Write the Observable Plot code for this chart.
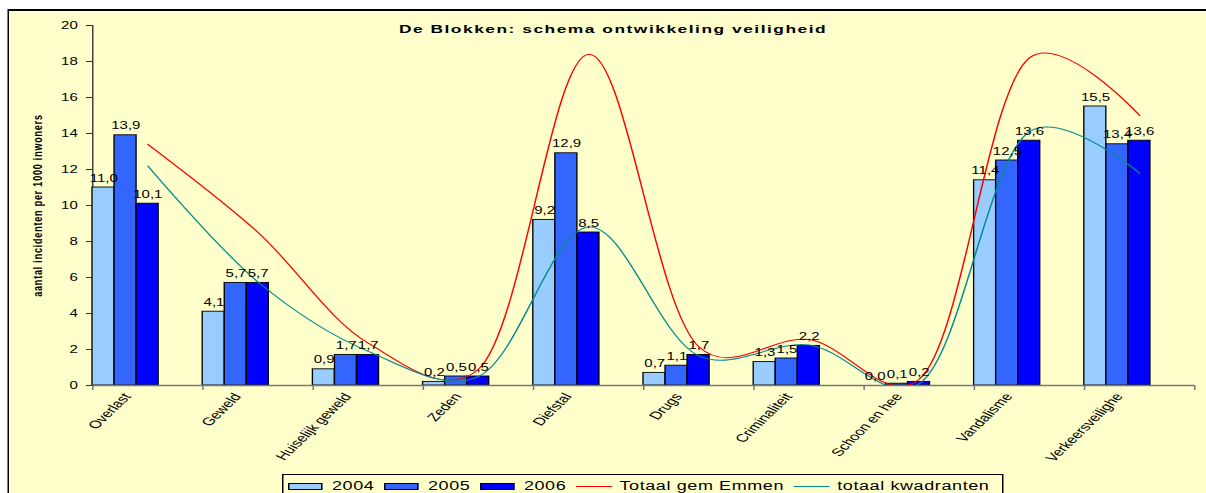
<!DOCTYPE html>
<html>
<head>
<meta charset="utf-8">
<script src="https://cdn.jsdelivr.net/npm/d3@7"></script>
<script src="https://cdn.jsdelivr.net/npm/@observablehq/plot@0.6"></script>
<style>
  html, body { margin: 0; padding: 0; background: #fff; overflow: hidden; }
  #wrap { position: relative; width: 804px; height: 493px; transform: scaleX(1.5); transform-origin: 0 0; font-family: "Liberation Sans", Arial, sans-serif; }
  #frame { position: absolute; left: 4.67px; top: 9px; width: 820px; height: 500px; background: #FFFFCC; border-style: solid; border-color: #000; border-width: 2px 1.33px; box-sizing: border-box; }
  #title { position: absolute; left: 0; top: 23px; width: 817.4px; text-align: center; font-weight: bold; font-size: 11.6px; line-height: 12px; letter-spacing: 1px; color: #000; }
  #chart { position: absolute; left: 0; top: 0; }
  #legend { position: absolute; left: 188px; top: 474px; width: 480.7px; height: 24px; box-sizing: border-box; border: 1px solid #000; border-left-width: 0.8px; border-right-width: 0.8px; background: #FFFFCC; display: flex; align-items: center; padding-left: 3px; font-size: 12px; letter-spacing: 0.4px; color: #000; white-space: nowrap; }
  .item { display: flex; align-items: center; margin-right: 6.4px; }
  .sw { width: 23.3px; height: 7px; box-sizing: border-box; border: 1px solid #000; border-left-width: 0.8px; border-right-width: 0.8px; margin-right: 6px; }
  .ln { width: 24px; height: 1px; margin-right: 5px; }
</style>
</head>
<body>
<div id="wrap">
  <div id="frame"></div>
  <div id="title"></div>
  <div id="chart"></div>
  <div id="legend"></div>
</div>
<script>
// ---- data ----
const chartTitle = "De Blokken: schema ontwikkeling veiligheid";
const yLabel = "aantal incidenten per 1000 inwoners";
const categories = ["Overlast", "Geweld", "Huiselijk geweld", "Zeden", "Diefstal", "Drugs", "Criminaliteit", "Schoon en hee", "Vandalisme", "Verkeersveilighe"];
const years = ["2004", "2005", "2006"];
const values2004 = [11.0, 4.1, 0.9, 0.2, 9.2, 0.7, 1.3, 0.0, 11.4, 15.5];
const values2005 = [13.9, 5.7, 1.7, 0.5, 12.9, 1.1, 1.5, 0.1, 12.5, 13.4];
const values2006 = [10.1, 5.7, 1.7, 0.5, 8.5, 1.7, 2.2, 0.2, 13.6, 13.6];
const lineNames = ["Totaal gem Emmen", "totaal kwadranten"];
const totaalGemEmmen = [13.4, 8.5, 2.35, 0.9, 18.4, 2.15, 2.55, 0.35, 18.2, 15.0];
const totaalKwadranten = [12.2, 5.75, 1.9, 0.5, 8.8, 1.65, 2.25, 0.1, 14.1, 11.8];
const yTicks = [0, 2, 4, 6, 8, 10, 12, 14, 16, 18, 20];

// ---- styles ----
const barColors = ["#99CCFF", "#3366FF", "#0000FF"];
const lineColors = ["#FF0000", "#008C8C"];
const S = 1.5;           // horizontal stretch of the whole picture
const W = 1206 / S, H = 493;
const barW = 0.2;        // bar width in category units

// ---- derived tables ----
const series = [values2004, values2005, values2006];
const bars = [];
categories.forEach((c, i) => years.forEach((yr, j) => bars.push({cat: c, i, j, year: yr, value: series[j][i]})));
const lines = [];
[totaalGemEmmen, totaalKwadranten].forEach((arr, k) => arr.forEach((v, i) => lines.push({name: lineNames[k], i, value: v})));
const fmt = v => d3.format(".1f")(v).replace(".", ",");

document.getElementById("title").textContent = chartTitle;

const plot = Plot.plot({
  width: W,
  height: H,
  marginLeft: 92 / S,
  marginRight: 12 / S,
  marginTop: 25,
  marginBottom: 108,
  x: {domain: [0, categories.length], axis: null},
  y: {domain: [0, 20], axis: null},
  color: {domain: years, range: barColors},
  style: {background: "transparent", overflow: "visible", fontFamily: "Liberation Sans, Arial, sans-serif", color: "#000"},
  marks: [
    Plot.axisY({ticks: yTicks, tickSize: 4, tickPadding: 6, label: null, fontSize: 10, stroke: "#333", fill: "#000"}),
    Plot.ruleX([0], {stroke: "#444", strokeWidth: 1}),
    Plot.rect(bars, {
      x1: d => d.i + d.j * barW,
      x2: d => d.i + (d.j + 1) * barW,
      y1: 0,
      y2: "value",
      fill: "year",
      stroke: "#000",
      strokeWidth: 0.9
    }),
    Plot.ruleY([0], {stroke: "#777", strokeWidth: 1.6}),
    Plot.axisX({ticks: d3.range(0, categories.length + 1), tickSize: 5, tickFormat: () => "", stroke: "#777", label: null}),
    Plot.line(lines, {x: d => d.i + 0.5, y: "value", z: "name", stroke: d => lineColors[lineNames.indexOf(d.name)], strokeWidth: 1, curve: d3.curveCatmullRom.alpha(0.2), clip: "frame"}),
    Plot.text(bars, {
      x: d => d.i + (d.j + 0.5) * barW,
      y: "value",
      text: d => fmt(d.value),
      lineAnchor: "bottom",
      dy: -6,
      fontSize: 10,
      fill: "#000"
    }),
    Plot.text(categories, {
      x: (d, i) => i + 1.5 * barW,
      y: 0,
      text: d => d,
      rotate: -55,
      textAnchor: "end",
      lineAnchor: "middle",
      dx: 1,
      dy: 9,
      fontSize: 11,
      fill: "#000"
    }),
    Plot.text([yLabel], {
      frameAnchor: "left",
      text: d => d,
      rotate: -90,
      textAnchor: "middle",
      dx: -37,
      fontWeight: "bold",
      fontSize: 9,
      fill: "#000"
    })
  ]
});
document.getElementById("chart").appendChild(plot);
// letter spacing of the rotated axis title
d3.select(plot).selectAll("text").filter(function() { return this.textContent === yLabel; }).style("letter-spacing", "0.8px");

// ---- legend ----
const legend = document.getElementById("legend");
years.forEach((yr, j) => {
  const it = document.createElement("div"); it.className = "item";
  const sw = document.createElement("div"); sw.className = "sw"; sw.style.background = barColors[j];
  const tx = document.createElement("span"); tx.textContent = yr;
  it.appendChild(sw); it.appendChild(tx); legend.appendChild(it);
});
lineNames.forEach((n, k) => {
  const it = document.createElement("div"); it.className = "item";
  const ln = document.createElement("div"); ln.className = "ln"; ln.style.background = lineColors[k];
  const tx = document.createElement("span"); tx.textContent = n;
  it.appendChild(ln); it.appendChild(tx); legend.appendChild(it);
});
</script>
</body>
</html>
